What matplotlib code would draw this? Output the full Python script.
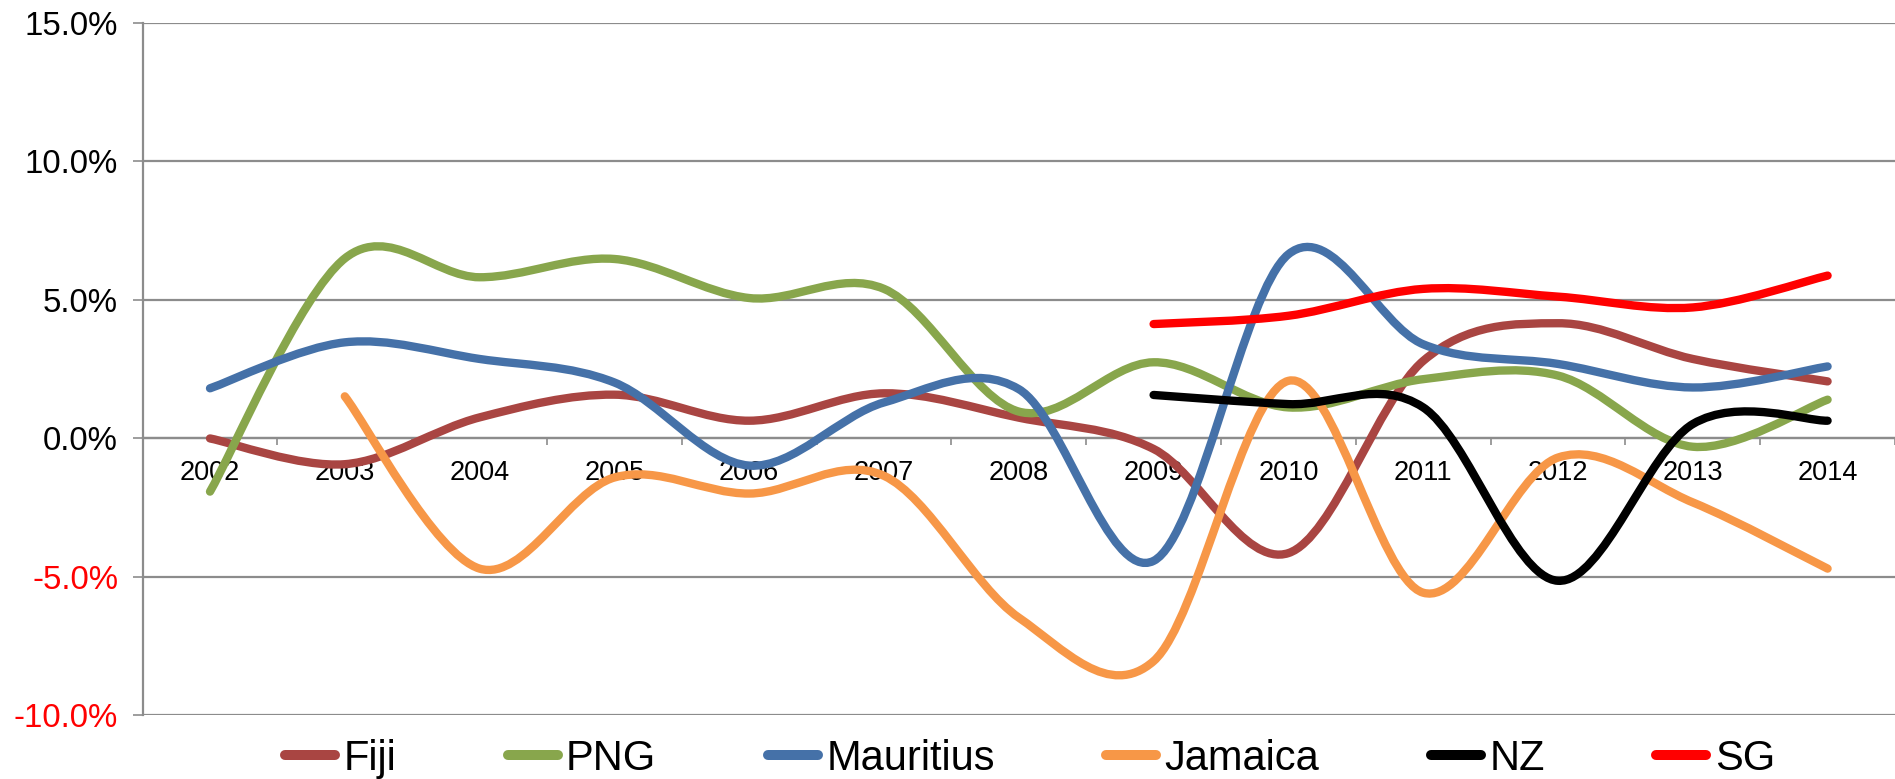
import matplotlib
matplotlib.use("Agg")
import matplotlib.pyplot as plt
from matplotlib.path import Path
from matplotlib.patches import PathPatch
from matplotlib.lines import Line2D
from matplotlib.ticker import FixedLocator, FuncFormatter

plt.rcParams['font.family'] = ['Liberation Sans', 'DejaVu Sans']

years = [str(y) for y in range(2002, 2015)]
fiji = [0.0, -0.93, 0.76, 1.58, 0.64, 1.63, 0.75, -0.38, -4.14, 2.8, 4.16, 2.87, 2.06]
png = [-1.92, 6.5, 5.82, 6.48, 5.07, 5.4, 0.97, 2.75, 1.12, 2.14, 2.27, -0.3, 1.4]
mauritius = [1.81, 3.47, 2.87, 2.02, -0.98, 1.3, 1.78, -4.42, 6.65, 3.4, 2.69, 1.84, 2.6]
jamaica = [None, 1.52, -4.7, -1.41, -1.99, -1.35, -6.47, -8.04, 2.08, -5.57, -0.69, -2.31, -4.7]
nz = [None, None, None, None, None, None, None, 1.57, 1.24, 1.12, -5.14, 0.52, 0.64]
sg = [None, None, None, None, None, None, None, 4.13, 4.43, 5.4, 5.12, 4.73, 5.88]

series_names = ['Fiji', 'PNG', 'Mauritius', 'Jamaica', 'NZ', 'SG']
series_values = [fiji, png, mauritius, jamaica, nz, sg]
colors = ['#A94542', '#88A64C', '#4571A8', '#F79747', '#000000', '#FF0000']

y_ticks = [-10, -5, 0, 5, 10, 15]

W, H = 1895, 779
fig = plt.figure(figsize=(W / 100, H / 100), dpi=100)
left = 142.6 / W
right = 1.0
top = 1 - 23.0 / H
bottom = 1 - 715.4 / H
ax = fig.add_axes([left, bottom, right - left, top - bottom])

n = len(years)
ax.set_xlim(-0.5, n - 0.5)
ax.set_ylim(-10, 15)


def smooth_path(xs, ys):
    # Excel-like smoothed line: cubic Bezier through the points
    pts = list(zip(xs, ys))
    verts = [pts[0]]
    codes = [Path.MOVETO]
    m = len(pts)
    for i in range(m - 1):
        p0 = pts[i - 1] if i > 0 else pts[i]
        p1 = pts[i]
        p2 = pts[i + 1]
        p3 = pts[i + 2] if i + 2 < m else pts[i + 1]
        c1 = (p1[0] + (p2[0] - p0[0]) / 6, p1[1] + (p2[1] - p0[1]) / 6)
        c2 = (p2[0] - (p3[0] - p1[0]) / 6, p2[1] - (p3[1] - p1[1]) / 6)
        verts += [c1, c2, p2]
        codes += [Path.CURVE4, Path.CURVE4, Path.CURVE4]
    return Path(verts, codes)


for vals, col in zip(series_values, colors):
    xs = [i for i, v in enumerate(vals) if v is not None]
    ys = [v for v in vals if v is not None]
    patch = PathPatch(smooth_path(xs, ys), facecolor='none', edgecolor=col,
                      lw=6.0, capstyle='round', joinstyle='round', zorder=3)
    ax.add_patch(patch)

# grid & axes
grid_col = '#8C8C8C'
for s in ['top', 'right']:
    ax.spines[s].set_visible(False)
ax.spines['left'].set_color(grid_col)
ax.spines['left'].set_linewidth(1.6)
ax.spines['bottom'].set_position(('data', 0))
ax.spines['bottom'].set_color(grid_col)
ax.spines['bottom'].set_linewidth(1.6)
ax.yaxis.grid(True, color=grid_col, linewidth=1.6)
ax.set_axisbelow(True)

ax.yaxis.set_major_locator(FixedLocator(y_ticks))
ax.yaxis.set_major_formatter(FuncFormatter(lambda v, p: f"{v:.1f}%"))
ax.tick_params(axis='y', length=7.2, width=1.2, color=grid_col, pad=10.5, labelsize=23.8)
for lab, v in zip(ax.get_yticklabels(), y_ticks):
    lab.set_color('#FF0000' if v < 0 else 'black')

ax.set_xticks(range(n))
ax.set_xticklabels(years)
ax.tick_params(axis='x', length=0, pad=15.5, labelsize=19.5)
ax.set_xticks([i + 0.5 for i in range(n)], minor=True)
ax.tick_params(axis='x', which='minor', length=5, width=1.2, color=grid_col, direction='out')

handles = [Line2D([], [], color=c, lw=7.2, solid_capstyle='round') for c in colors]
fig.legend(handles, series_names, loc='center', bbox_to_anchor=(0.5435, 1 - 759 / H),
           ncol=6, frameon=False, fontsize=30, handlelength=1.2, handletextpad=0.2,
           columnspacing=2.68, borderpad=0, borderaxespad=0)

fig.savefig('out.png', dpi=100)
